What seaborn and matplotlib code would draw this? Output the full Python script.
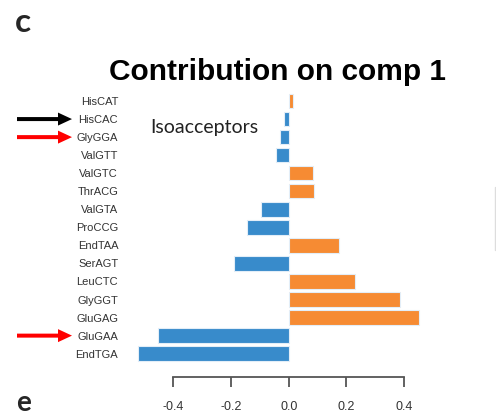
import matplotlib
matplotlib.use("Agg")
import matplotlib.pyplot as plt
from matplotlib.patches import FancyArrow
import seaborn as sns
import pandas as pd

# Loadings of each isoacceptor on the first component (top to bottom)
labels = ["HisCAT", "HisCAC", "GlyGGA", "ValGTT", "ValGTC", "ThrACG", "ValGTA",
          "ProCCG", "EndTAA", "SerAGT", "LeuCTC", "GlyGGT", "GluGAG", "GluGAA", "EndTGA"]
loadings = [0.014, -0.015, -0.029, -0.044, 0.085, 0.089, -0.095,
            -0.146, 0.173, -0.189, 0.231, 0.387, 0.452, -0.453, -0.522]
ticks = [-0.4, -0.2, 0.0, 0.2, 0.4]
tick_labels = ["-0.4", "-0.2", "0.0", "0.2", "0.4"]

# Groups that carry the bar colour, and rows flagged by arrows
group_names = ["neg", "pos"]
group_colors = ["#388bcb", "#f68b33"]
arrow_rows = ["HisCAC", "GlyGGA", "GluGAA"]
arrow_colors = ["black", "#ff0000", "#ff0000"]

df = pd.DataFrame({
    "label": labels,
    "value": loadings,
    "group": ["pos" if v > 0 else "neg" for v in loadings],
})

sns.set_style("white")
plt.rcParams["font.family"] = ["Liberation Sans", "DejaVu Sans"]

W, H = 496, 417
fig = plt.figure(figsize=(W / 100, H / 100), dpi=100)

# axes placed in pixel terms: x from 130 to 447, y from 92 to 363
ax_left, ax_right, ax_top, ax_bottom = 130, 447.4, 92, 362.7
ax = fig.add_axes([ax_left / W, 1 - ax_bottom / H,
                   (ax_right - ax_left) / W, (ax_bottom - ax_top) / H])

sns.barplot(data=df, x="value", y="label", hue="group", order=labels,
            hue_order=group_names, palette=dict(zip(group_names, group_colors)),
            orient="h", dodge=False, width=0.8, legend=False, ax=ax,
            saturation=1, edgecolor="#e3eef8", linewidth=0.8)

ax.set_xlim(-0.55, 0.55)
ax.set_ylim(len(labels) - 0.5, -0.5)
ax.set_xlabel("")
ax.set_ylabel("")

for s in ["top", "right", "left"]:
    ax.spines[s].set_visible(False)
ax.spines["bottom"].set_position(("outward", 10))
ax.spines["bottom"].set_bounds(-0.4, 0.4)
ax.spines["bottom"].set_color("#555555")
ax.spines["bottom"].set_linewidth(1.3)

ax.set_xticks(ticks)
ax.set_xticklabels(tick_labels)
ax.tick_params(axis="x", direction="out", length=7.5, width=1.3, color="#555555",
               pad=10, labelsize=9, labelcolor="#333333", bottom=True)
ax.tick_params(axis="y", length=0, pad=8.5, labelsize=8, labelcolor="#333333")

# Title and panel letters
fig.text(277.5 / W, 1 - 80 / H, "Contribution on comp 1", ha="center", va="baseline",
         fontsize=21.5, fontweight="bold", color="black")
fig.text(15 / W, 1 - 32 / H, "c", ha="left", va="baseline",
         fontsize=24, fontweight="bold", family=["Lato", "DejaVu Sans"])
fig.text(16 / W, 1 - 411 / H, "e", ha="left", va="baseline",
         fontsize=20, fontweight="bold", family=["Lato", "DejaVu Sans"])

# Annotation
fig.text(150 / W, 1 - 133 / H, "Isoacceptors", ha="left", va="baseline",
         fontsize=14, family=["Lato", "DejaVu Sans"], color="#222222")

# Arrows pointing to flagged rows
for row, col in zip(arrow_rows, arrow_colors):
    i = labels.index(row)
    y_px = ax.transData.transform((0, i))[1]
    y_fig = y_px / H
    arr = FancyArrow(17 / W, y_fig, 55 / W, 0, width=4 / H,
                     head_width=13 / H, head_length=14 / W,
                     length_includes_head=True, transform=fig.transFigure,
                     color=col, linewidth=0)
    fig.patches.append(arr)

# faint edge of the neighbouring panel
fig.add_artist(plt.Line2D([494.5 / W, 494.5 / W], [1 - 187 / H, 1 - 250 / H],
                          transform=fig.transFigure, color="#dddddd", linewidth=1))

fig.savefig("out.png", dpi=100)
